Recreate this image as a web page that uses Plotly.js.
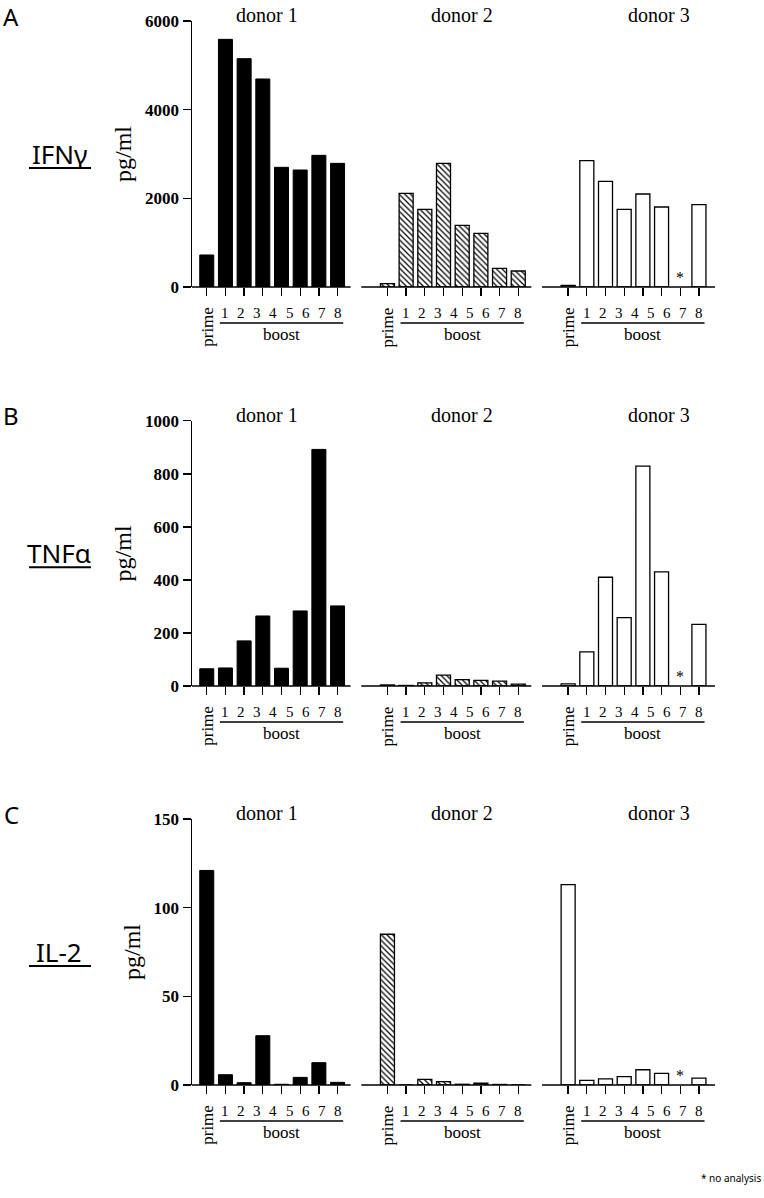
<!DOCTYPE html>
<html>
<head>
<meta charset="utf-8">
<script src="https://cdn.plot.ly/plotly-3.0.1.min.js"></script>
<style>
  body { margin: 0; background: #fff; }
  #chart { width: 764px; height: 1198px; }
</style>
</head>
<body>
<div id="chart"></div>
<script>
// values: prime + boosts per donor (null = no analysis)
var donors = ['donor 1', 'donor 2', 'donor 3']
var boostLabels = ['1', '2', '3', '4', '5', '6', '7', '8']
var cytokines = ['IFNγ', 'TNFα', 'IL-2']
var panelLetters = ['A', 'B', 'C']

var ifngDonor1 = [722, 5586, 5150, 4692, 2699, 2639, 2970, 2789]
var ifngDonor2 = [75, 2113, 1752, 2789, 1391, 1211, 421, 361]
var ifngDonor3 = [38, 2850, 2383, 1752, 2098, 1805, null, 1857]

var tnfDonor1 = [65, 68, 170, 264, 67, 283, 892, 302]
var tnfDonor2 = [4, 2, 12, 41, 24, 21, 18, 7]
var tnfDonor3 = [8, 129, 410, 258, 829, 430, null, 232]

var il2Donor1 = [121, 5.8, 1.3, 27.8, 0.4, 4.3, 12.6, 1.5]
var il2Donor2 = [85, 0, 3.2, 1.9, 0.4, 1.0, 0.3, 0]
var il2Donor3 = [113, 2.6, 3.4, 4.7, 8.6, 6.6, null, 3.9]

var yTicks = [[0, 2000, 4000, 6000], [0, 200, 400, 600, 800, 1000], [0, 50, 100, 150]]
var yMax = [6000, 1000, 150]

var panelValues = [
    [ifngDonor1, ifngDonor2, ifngDonor3],
    [tnfDonor1, tnfDonor2, tnfDonor3],
    [il2Donor1, il2Donor2, il2Donor3]
]

var serif = 'Liberation Serif, serif'
var sans = 'Noto Sans, sans-serif'
var groupStep = 9.67
var xRange = [-0.79, 27.2]
var titleOffset = [3.2, 4.0, 4.85]
var yDomains = [[0.75, 1], [0.375, 0.6243], [0, 0.25]]

function barMarker(d) {
    if (d == 0) return {color: 'black', line: {color: 'black', width: 1}}
    if (d == 1) return {
        color: 'white',
        pattern: {shape: '\\', fgcolor: 'black', bgcolor: 'white', size: 4, solidity: 0.3},
        line: {color: 'black', width: 1.3}
    }
    return {color: 'white', line: {color: 'black', width: 1.3}}
}

function drawChart() {
    var data = []
    var shapes = []
    var annotations = []
    var layout = {
        width: 764,
        height: 1198,
        margin: {l: 192, r: 49, t: 21, b: 113},
        paper_bgcolor: 'white',
        plot_bgcolor: 'white',
        showlegend: false,
        bargap: 0
    }

    for (var p = 0; p < 3; p++) {
        var suffix = p == 0 ? '' : String(p + 1)
        var xa = 'x' + suffix
        var ya = 'y' + suffix
        var ticks = []

        for (var d = 0; d < 3; d++) {
            var vals = panelValues[p][d]
            var g = d * groupStep
            var xs = vals.map((v, i) => g + i)
            ticks = ticks.concat(xs)

            data.push({
                type: 'bar', x: xs, y: vals, xaxis: xa, yaxis: ya,
                width: 0.75, marker: barMarker(d), hoverinfo: 'skip'
            })

            // broken x axis baseline, one piece per donor
            shapes.push({
                type: 'line', xref: xa, yref: ya + ' domain',
                x0: d == 0 ? xRange[0] : g - 1.4,
                x1: d == 2 ? xRange[1] : g + 7.7,
                y0: 0, y1: 0,
                line: {color: 'black', width: 1.5}
            })
            // line over "boost"
            shapes.push({
                type: 'line', xref: xa, yref: ya + ' domain', ysizemode: 'pixel', yanchor: 0,
                x0: xs[1] - 0.3, x1: xs[xs.length - 1] + 0.3, y0: -36, y1: -36,
                line: {color: 'black', width: 1.3}
            })

            annotations.push({
                xref: xa, yref: ya + ' domain', x: g + titleOffset[d], y: 1, yshift: 6,
                text: donors[d], showarrow: false, yanchor: 'middle', xanchor: 'center',
                font: {family: serif, size: 20, color: 'black'}
            })
            annotations.push({
                xref: xa, yref: ya, x: xs[0], y: 0, yshift: -40, textangle: -90,
                text: 'prime', showarrow: false, yanchor: 'middle', xanchor: 'center',
                font: {family: serif, size: 17, color: 'black'}
            })
            var step = (xs[xs.length - 1] - xs[1]) / (boostLabels.length - 1)
            boostLabels.forEach(function(lab, k) {
                annotations.push({
                    xref: xa, yref: ya, x: xs[1] + k * step, y: 0, yshift: -26,
                    text: lab, showarrow: false, yanchor: 'middle', xanchor: 'center',
                    font: {family: serif, size: 15, color: 'black'}
                })
            })
            annotations.push({
                xref: xa, yref: ya, x: (xs[1] + xs[xs.length - 1]) / 2, y: 0, yshift: -47,
                text: 'boost', showarrow: false, yanchor: 'middle', xanchor: 'center',
                font: {family: serif, size: 17, color: 'black'}
            })
            // asterisk for missing values
            vals.forEach(function(v, i) {
                if (v === null) annotations.push({
                    xref: xa, yref: ya, x: xs[i], y: 0, yshift: 10,
                    text: '*', showarrow: false, yanchor: 'middle', xanchor: 'center',
                    font: {family: serif, size: 16, color: 'black'}
                })
            })
        }

        layout['xaxis' + suffix] = {
            domain: [0, 1], anchor: ya, range: xRange,
            tickvals: ticks, showticklabels: false,
            ticks: 'outside', ticklen: 8, tickwidth: 1.3, tickcolor: 'black',
            showline: false, showgrid: false, zeroline: false, fixedrange: true
        }
        layout['yaxis' + suffix] = {
            domain: yDomains[p], anchor: xa, range: [0, yMax[p]],
            tickvals: yTicks[p], ticks: 'outside', ticklen: 8, tickwidth: 1.5, tickcolor: 'black',
            tickfont: {family: serif, size: 17, color: 'black', weight: 'bold'},
            showline: true, linewidth: 1.5, linecolor: 'black',
            showgrid: false, zeroline: false, automargin: false,
            title: {text: 'pg/ml', font: {family: serif, size: 24, color: 'black'}, standoff: 6}
        }

        // cytokine name, underlined, and panel letter
        annotations.push({
            xref: 'paper', yref: ya + ' domain', x: 0, y: 0.5, xshift: -133,
            text: cytokines[p], showarrow: false, yanchor: 'middle', xanchor: 'center',
            font: {family: sans, size: 26, color: 'black'}
        })
        shapes.push({
            type: 'line', xref: 'paper', yref: ya + ' domain',
            xsizemode: 'pixel', xanchor: 0, ysizemode: 'pixel', yanchor: 0.5,
            x0: -163, x1: -101, y0: -14, y1: -14,
            line: {color: 'black', width: 2}
        })
        annotations.push({
            xref: 'paper', yref: ya + ' domain', x: 0, y: 1, xshift: -181, yshift: 5,
            text: panelLetters[p], showarrow: false, yanchor: 'middle', xanchor: 'center',
            font: {family: sans, size: 24, color: 'black'}
        })
    }

    annotations.push({
        xref: 'paper', yref: 'paper', x: 1, y: 0, xshift: 48, yshift: -93,
        text: '* no analysis', showarrow: false, xanchor: 'right', yanchor: 'middle',
        font: {family: sans, size: 10, color: 'black'}
    })

    layout.shapes = shapes
    layout.annotations = annotations

    Plotly.newPlot('chart', data, layout, {staticPlot: true})
}

drawChart()
</script>
</body>
</html>
